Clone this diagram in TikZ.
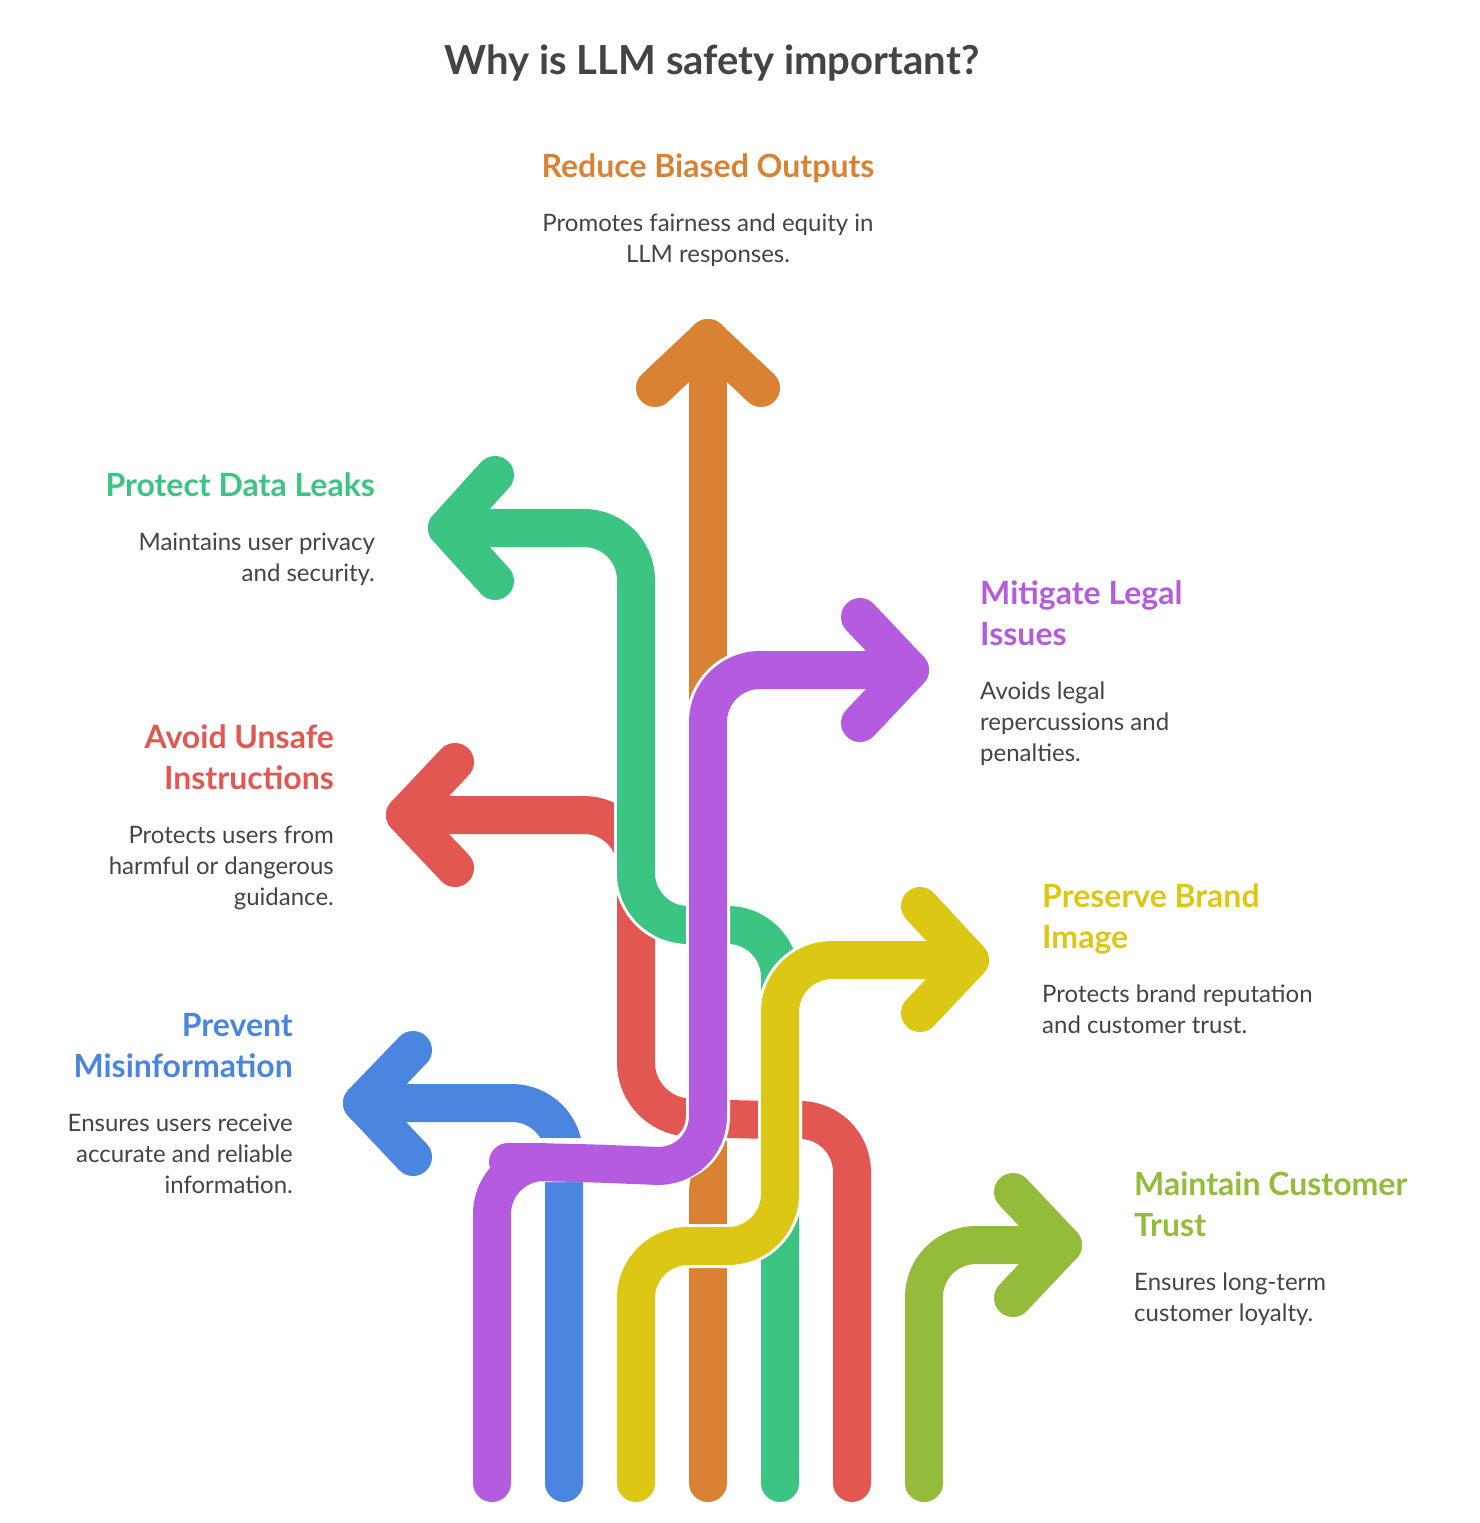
\documentclass[tikz,border=0pt]{standalone}
\usepackage{fontspec}
\setmainfont{Lato}
\definecolor{cO}{HTML}{D98233}
\definecolor{cG}{HTML}{3CC482}
\definecolor{cR}{HTML}{E35752}
\definecolor{cB}{HTML}{4A86E0}
\definecolor{cP}{HTML}{B55BE0}
\definecolor{cY}{HTML}{DCC814}
\definecolor{cL}{HTML}{93BC3A}
\definecolor{tx}{HTML}{444444}
\begin{document}
\begin{tikzpicture}[x=1pt,y=-1pt,
  band/.style={line width=38pt,line cap=round,line join=round,rounded corners=52pt,draw=#1},
  edge/.style={line width=44pt,line cap=butt,rounded corners=52pt,draw=white},
  head/.style={text=#1,font=\fontsize{32}{40}\selectfont\bfseries,inner sep=0pt},
  desc/.style={text=tx,font=\fontsize{24}{31}\selectfont,inner sep=0pt}]
\useasboundingbox[fill=white] (0,0) rectangle (1480,1523);
% coordinates
\coordinate (oB) at (708,1483); \coordinate (oT) at (708,338);
\coordinate (gB) at (780,1483); \coordinate (gT) at (447,528);
\coordinate (rB) at (852,1483); \coordinate (rT) at (405,815);
\coordinate (bB) at (564,1483); \coordinate (bT) at (362,1103);
\coordinate (yB) at (636,1483); \coordinate (yT) at (970,960);
\coordinate (pB) at (492,1483); \coordinate (pT) at (910,670);
\coordinate (lB) at (924,1483); \coordinate (lT) at (1063,1245);
% orange
\draw[band=cO] (oB) -- (oT);
\draw[band=cO,rounded corners=0pt] (655,388) -- (oT) -- (761,388);
% red
\draw[edge] (852,1200) |- (740,1120) -- (636,1115) |- (460,815);
\draw[band=cR] (rB) |- (740,1120) -- (636,1115) |- (rT);
\draw[band=cR,rounded corners=0pt] (455,762) -- (rT) -- (455,868);
% green
\draw[edge] (780,1200) |- (636,925) |- (500,528);
\draw[band=cG] (gB) |- (636,925) |- (gT);
\draw[band=cG,rounded corners=0pt] (495,475) -- (gT) -- (495,581);
% blue
\draw[edge] (564,1400) |- (420,1103);
\draw[band=cB] (bB) |- (bT);
\draw[band=cB,rounded corners=0pt] (413,1050) -- (bT) -- (413,1157);
% yellow
\draw[edge] (636,1400) |- (780,1246) |- (920,960);
\draw[band=cY] (yB) |- (780,1246) |- (yT);
\draw[band=cY,rounded corners=0pt] (920,906) -- (yT) -- (920,1013);
% purple
\draw[edge] (492,1400) |- (640,1160) -- (708,1168) |- (860,670);
\draw[band=cP] (pB) |- (560,1162) -- (708,1168) |- (pT);
\draw[band=cP,rounded corners=0pt] (860,617) -- (pT) -- (860,723);
% lime
\draw[band=cL] (lB) |- (lT);
\draw[band=cL,rounded corners=0pt] (1013,1192) -- (lT) -- (1013,1298);
% texts
\node[text=tx,font=\fontsize{40}{48}\selectfont\bfseries,inner sep=0pt,anchor=base] (title) at (712,74) {Why is LLM safety important?};
\node[head=cO,anchor=base] (h1) at (708,177) {Reduce Biased Outputs};
\node[desc,anchor=base] (d1a) at (708,231) {Promotes fairness and equity in};
\node[desc,anchor=base] (d1b) at (708,262) {LLM responses.};
\node[head=cG,anchor=base east] (h2) at (375,496) {Protect Data Leaks};
\node[desc,anchor=base east] (d2a) at (375,550) {Maintains user privacy};
\node[desc,anchor=base east] (d2b) at (375,581) {and security.};
\node[head=cR,anchor=base east] (h3a) at (334,748) {Avoid Unsafe};
\node[head=cR,anchor=base east] (h3b) at (334,789) {Instructions};
\node[desc,anchor=base east] (d3a) at (334,843) {Protects users from};
\node[desc,anchor=base east] (d3b) at (334,874) {harmful or dangerous};
\node[desc,anchor=base east] (d3c) at (334,905) {guidance.};
\node[head=cB,anchor=base east] (h4a) at (293,1036) {Prevent};
\node[head=cB,anchor=base east] (h4b) at (293,1077) {Misinformation};
\node[desc,anchor=base east] (d4a) at (293,1131) {Ensures users receive};
\node[desc,anchor=base east] (d4b) at (293,1162) {accurate and reliable};
\node[desc,anchor=base east] (d4c) at (293,1193) {information.};
\node[head=cP,anchor=base west] (h5a) at (980,604) {Mitigate Legal};
\node[head=cP,anchor=base west] (h5b) at (980,645) {Issues};
\node[desc,anchor=base west] (d5a) at (980,699) {Avoids legal};
\node[desc,anchor=base west] (d5b) at (980,730) {repercussions and};
\node[desc,anchor=base west] (d5c) at (980,761) {penalties.};
\node[head=cY,anchor=base west] (h6a) at (1042,907) {Preserve Brand};
\node[head=cY,anchor=base west] (h6b) at (1042,948) {Image};
\node[desc,anchor=base west] (d6a) at (1042,1002) {Protects brand reputation};
\node[desc,anchor=base west] (d6b) at (1042,1033) {and customer trust.};
\node[head=cL,anchor=base west] (h7a) at (1134,1195) {Maintain Customer};
\node[head=cL,anchor=base west] (h7b) at (1134,1236) {Trust};
\node[desc,anchor=base west] (d7a) at (1134,1290) {Ensures long-term};
\node[desc,anchor=base west] (d7b) at (1134,1321) {customer loyalty.};
\end{tikzpicture}
\end{document}
